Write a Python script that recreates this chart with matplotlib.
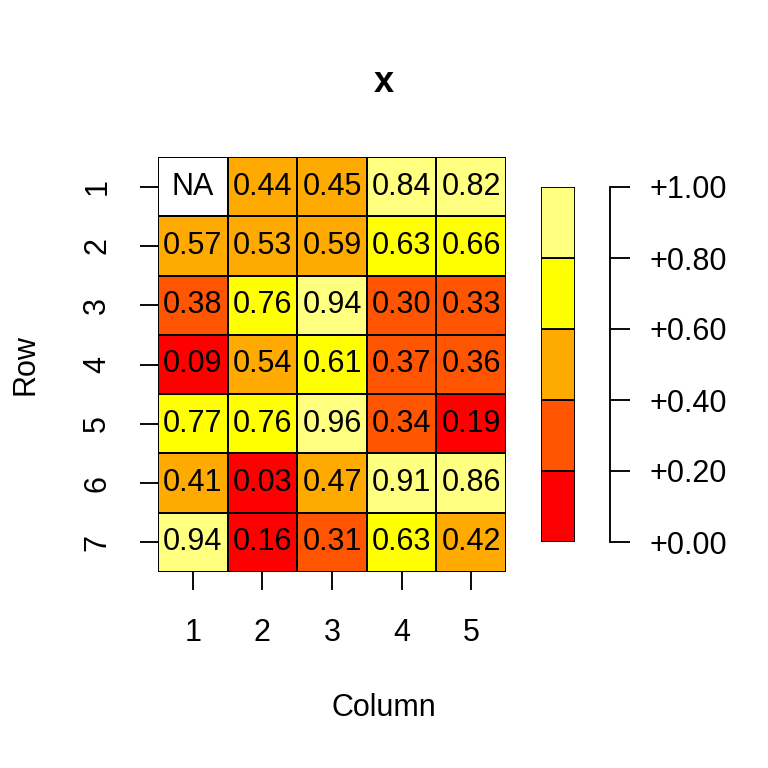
import numpy as np
import matplotlib.pyplot as plt
from matplotlib.colors import ListedColormap, BoundaryNorm

plt.rcParams['font.family'] = ['Liberation Sans', 'DejaVu Sans']

# matrix values (row 1 on top), NA in first cell
values = [
    [np.nan, 0.44, 0.45, 0.84, 0.82],
    [0.57, 0.53, 0.59, 0.63, 0.66],
    [0.38, 0.76, 0.94, 0.30, 0.33],
    [0.09, 0.54, 0.61, 0.37, 0.36],
    [0.77, 0.76, 0.96, 0.34, 0.19],
    [0.41, 0.03, 0.47, 0.91, 0.86],
    [0.94, 0.16, 0.31, 0.63, 0.42],
]
row_labels = ['1', '2', '3', '4', '5', '6', '7']
col_labels = ['1', '2', '3', '4', '5']
breaks = [0.0, 0.2, 0.4, 0.6, 0.8, 1.0]
colors = ['#FF0000', '#FF5500', '#FFAA00', '#FFFF00', '#FFFF80']
break_labels = ['+0.00', '+0.20', '+0.40', '+0.60', '+0.80', '+1.00']

W = H = 768
fs = 22
lw = 1.35


def rect(x0, y0, x1, y1):
    # pixel box (top-left origin) -> figure fraction
    return [x0 / W, 1 - y1 / H, (x1 - x0) / W, (y1 - y0) / H]


fig = plt.figure(figsize=(7.68, 7.68), dpi=100)

mat = np.ma.masked_invalid(np.array(values))
cmap = ListedColormap(colors)
cmap.set_bad('white')
norm = BoundaryNorm(breaks, cmap.N)

ax = fig.add_axes(rect(158, 157, 506, 572))
nr, nc = mat.shape
ax.pcolormesh(np.arange(nc + 1) + 0.5, np.arange(nr + 1) + 0.5, mat,
              cmap=cmap, norm=norm, edgecolors='black', linewidth=lw)
ax.set_xlim(0.5, nc + 0.5)
ax.set_ylim(nr + 0.5, 0.5)
for i in range(nr):
    for j in range(nc):
        v = values[i][j]
        txt = 'NA' if np.isnan(v) else '%.2f' % v
        ax.text(j + 1, i + 1, txt, ha='center', va='center', fontsize=fs)

for s in ax.spines.values():
    s.set_visible(False)
ax.set_xticks(range(1, nc + 1))
ax.set_xticklabels(col_labels)
ax.set_yticks(range(1, nr + 1))
ax.set_yticklabels(row_labels, rotation=90, va='center')
ax.tick_params(axis='both', length=13, width=lw, labelsize=fs, pad=20)

fig.text(384 / W, 1 - 82 / H, 'x', ha='center', va='center',
         fontsize=26, fontweight='bold')
fig.text(384 / W, 1 - 708 / H, 'Column', ha='center', va='center', fontsize=fs)
fig.text(25 / W, 1 - 365 / H, 'Row', ha='center', va='center',
         fontsize=fs, rotation=90)

# legend color bar
cax = fig.add_axes(rect(541, 187, 575, 542))
cax.bar(0, np.diff(breaks), bottom=breaks[:-1], width=1, color=colors,
        edgecolor='black', linewidth=lw, align='edge')
cax.set_xlim(0, 1)
cax.set_ylim(0, 1)
cax.axis('off')

# legend axis
lax = fig.add_axes(rect(610, 187, 630, 542))
lax.set_ylim(0, 1)
lax.set_xlim(0, 1)
for k, s in lax.spines.items():
    s.set_visible(k == 'left')
lax.spines['left'].set_linewidth(lw)
lax.set_xticks([])
lax.set_yticks(breaks)
lax.set_yticklabels(break_labels)
lax.tick_params(axis='y', direction='in', length=14.4, width=lw,
                left=True, right=False, labelleft=False, labelright=True,
                labelsize=fs, pad=14)
lax.patch.set_alpha(0)

fig.savefig('out.png', dpi=100)
